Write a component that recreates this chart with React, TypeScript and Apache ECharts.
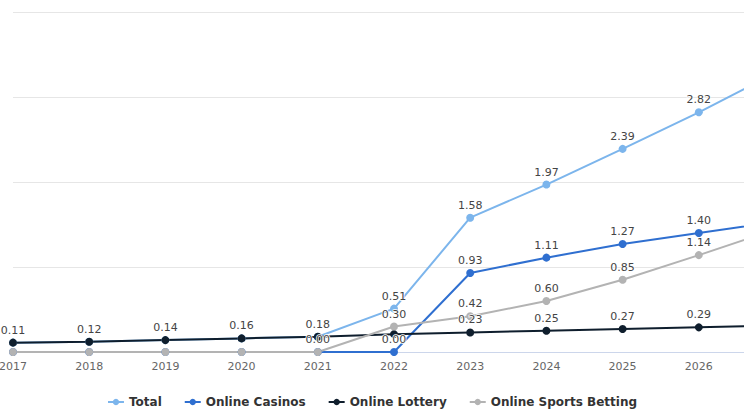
import React, { useEffect, useRef } from "react";
import * as echarts from "echarts";

const years = ["2017", "2018", "2019", "2020", "2021", "2022", "2023", "2024", "2025", "2026", "2027"];
const total = [0.11, 0.12, 0.14, 0.16, 0.18, 0.51, 1.58, 1.97, 2.39, 2.82, 3.28];
const casinos = [0, 0, 0, 0, 0, 0, 0.93, 1.11, 1.27, 1.4, 1.53];
const lottery = [0.11, 0.12, 0.14, 0.16, 0.18, 0.21, 0.23, 0.25, 0.27, 0.29, 0.31];
const sports = [0, 0, 0, 0, 0, 0.3, 0.42, 0.6, 0.85, 1.14, 1.44];

// which data labels are visible in the reference (others hidden by overlap or off-screen)
const totalLabels = [false, false, false, false, false, true, true, true, true, true, false];
const casinoLabels = [false, false, false, false, false, true, true, true, true, true, false];
const lotteryLabels = [true, true, true, true, true, false, true, true, true, true, false];
const sportsLabels = [false, false, false, false, true, true, true, true, true, true, false];

const FONT = "'DejaVu Sans', Verdana, sans-serif";

function mk(name: string, color: string, values: number[], shown: boolean[]) {
  return {
    name,
    type: "line",
    data: values.map((v, i) => ({ value: v, label: { show: shown[i] } })),
    symbol: "circle",
    symbolSize: 8,
    lineStyle: { color, width: 2 },
    itemStyle: { color },
    label: {
      show: true,
      position: "top",
      distance: 3,
      formatter: (p: any) => Number(p.value).toFixed(2),
      color: "#444",
      fontSize: 11,
      fontFamily: FONT,
      textBorderColor: "#fff",
      textBorderWidth: 1.5,
    },
    emphasis: { disabled: true },
  };
}

export default function App() {
  const ref = useRef<HTMLDivElement>(null);
  useEffect(() => {
    if (!ref.current) return;
    const chart = echarts.init(ref.current, null, { renderer: "svg" });
    chart.setOption({
      animation: false,
      backgroundColor: "#fff",
      grid: { left: 13, right: -31, top: 12, bottom: 68, containLabel: false, outerBoundsMode: "none" },
      legend: {
        bottom: 7,
        left: "center",
        itemWidth: 16,
        itemHeight: 8,
        itemGap: 22,
        textStyle: { fontFamily: FONT, fontSize: 12, fontWeight: "bold", color: "#333" },
        data: ["Total", "Online Casinos", "Online Lottery", "Online Sports Betting"],
      },
      xAxis: {
        type: "category",
        data: years,
        boundaryGap: false,
        axisLine: { lineStyle: { color: "#ccd6eb" } },
        axisTick: { show: false },
        axisLabel: {
          interval: (i: number) => i < years.length - 1,
          color: "#666",
          fontSize: 11,
          fontFamily: FONT,
          margin: 9,
        },
      },
      yAxis: {
        type: "value",
        min: 0,
        max: 4,
        interval: 1,
        axisLabel: { show: false },
        axisLine: { show: false },
        axisTick: { show: false },
        splitLine: { lineStyle: { color: "#e6e6e6" } },
      },
      series: [
        mk("Total", "#7cb5ec", total, totalLabels),
        mk("Online Casinos", "#2f6fd0", casinos, casinoLabels),
        mk("Online Lottery", "#0f1e2d", lottery, lotteryLabels),
        mk("Online Sports Betting", "#b3b3b3", sports, sportsLabels),
      ],
    });
    return () => chart.dispose();
  }, []);
  return (
    <div
      ref={ref}
      style={{ position: "absolute", left: 0, top: 0, width: 744, height: 420 }}
    />
  );
}
